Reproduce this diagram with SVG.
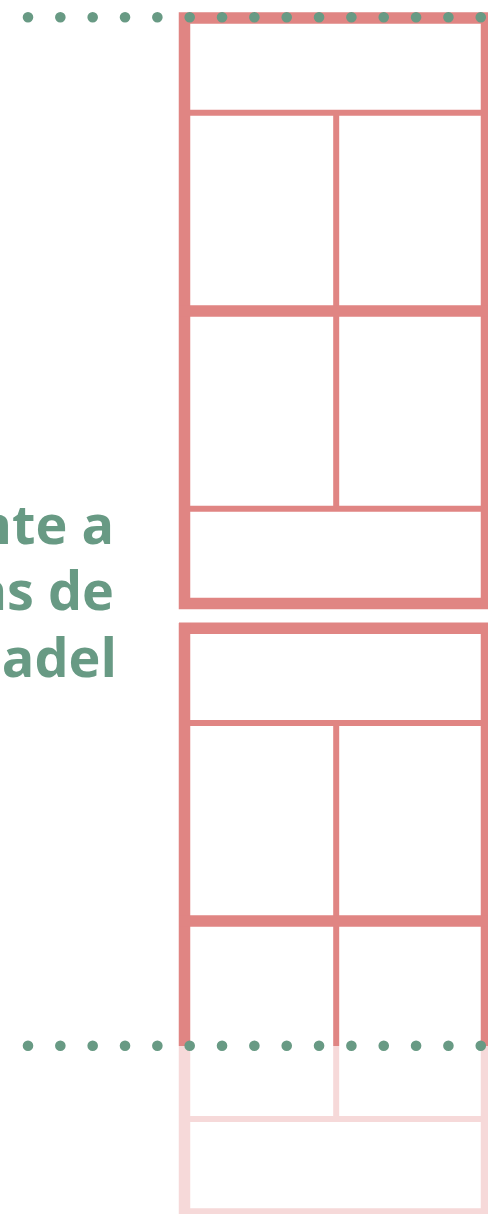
<svg xmlns="http://www.w3.org/2000/svg" width="488" height="1214" viewBox="0 0 488 1214">
  <style>
    .solid { stroke: #e08583; fill: none; }
    .faded { stroke: #f6d9d9; fill: none; }
    .thick { stroke-width: 11.5; }
    .thin { stroke-width: 6; }
    .dots { stroke: #689a84; stroke-width: 10.6; stroke-linecap: round; stroke-dasharray: 0 32.34; fill: none; }
    .label { font-family: "Open Sans", "Liberation Sans", sans-serif; font-weight: 700; font-size: 54px; fill: #689a84; text-anchor: end; }
  </style>
  <rect width="488" height="1214" fill="#ffffff"/>

  <g id="frame-top">
    <rect class="solid thick" x="184.5" y="18" width="302" height="585.5"/>
    <line class="solid thin" x1="190" y1="112.7" x2="481" y2="112.7"/>
    <line class="solid thin" x1="336.2" y1="115" x2="336.2" y2="306"/>
    <line class="solid thick" x1="179" y1="311" x2="492" y2="311"/>
    <line class="solid thin" x1="336.2" y1="316" x2="336.2" y2="506"/>
    <line class="solid thin" x1="190" y1="508.7" x2="481" y2="508.7"/>
  </g>

  <g id="frame-bottom">
    <line class="solid thick" x1="179" y1="628.3" x2="492" y2="628.3"/>
    <line class="solid thick" x1="184.5" y1="623" x2="184.5" y2="1046"/>
    <line class="solid thick" x1="486.5" y1="623" x2="486.5" y2="1046"/>
    <line class="solid thin" x1="190" y1="723" x2="481" y2="723"/>
    <line class="solid thin" x1="336.2" y1="725" x2="336.2" y2="916"/>
    <line class="solid thick" x1="179" y1="921" x2="492" y2="921"/>
    <line class="solid thin" x1="336.2" y1="926" x2="336.2" y2="1046"/>
    <line class="faded thick" x1="184.5" y1="1046" x2="184.5" y2="1214"/>
    <line class="faded thick" x1="486.5" y1="1046" x2="486.5" y2="1214"/>
    <line class="faded thin" x1="336.2" y1="1046" x2="336.2" y2="1117"/>
    <line class="faded thin" x1="190" y1="1119" x2="481" y2="1119"/>
    <line class="faded thick" x1="179" y1="1214" x2="492" y2="1214"/>
  </g>

  <g id="label">
    <text class="label" x="114" y="544">nte a</text>
    <text class="label" x="114" y="610">as de</text>
    <text class="label" x="117" y="677">adel</text>
  </g>

  <g id="guides">
    <line class="dots" x1="28" y1="17.3" x2="481" y2="17.3"/>
    <line class="dots" x1="28" y1="1045.7" x2="481" y2="1045.7"/>
  </g>
</svg>
